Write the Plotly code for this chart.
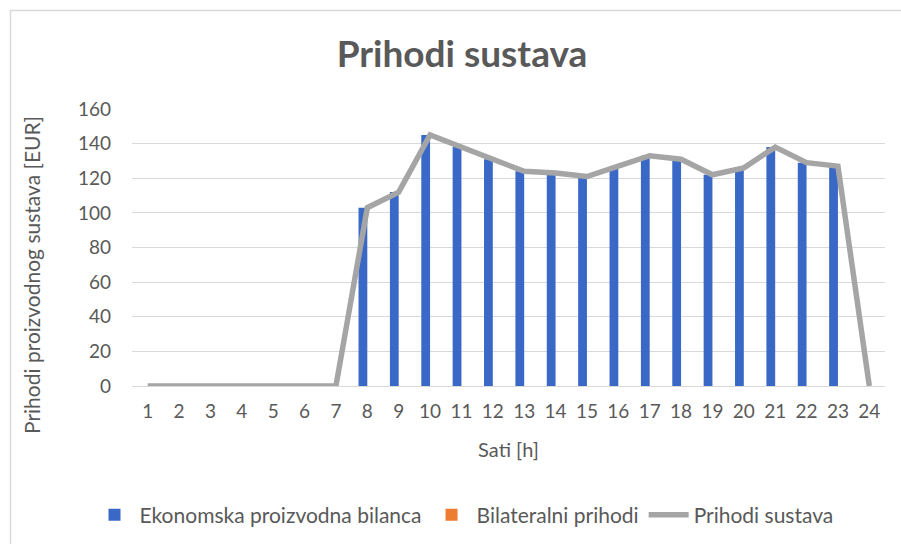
import plotly.graph_objects as go

hours = [str(h) for h in range(1, 25)]
ekonomska = [0, 0, 0, 0, 0, 0, 0, 103, 112, 145, 138, 131, 124, 123, 121, 127, 133, 131, 122, 126, 138, 129, 127, 0]
bilateralni = [0] * 24
prihodi = [a + b for a, b in zip(ekonomska, bilateralni)]

W, H = 901, 544
L, R, T, B = 132, 16, 109, 158
pw, ph = W - L - R, H - T - B

def px(x):
    return (x - L) / pw

def py(y):
    return (H - B - y) / ph

FONT = "Lato"
TXT = "#595959"

fig = go.Figure()
fig.add_trace(go.Bar(x=hours, y=ekonomska, name="Ekonomska proizvodna bilanca",
                     marker=dict(color="#3A68C6", line=dict(width=0))))
fig.add_trace(go.Bar(x=hours, y=bilateralni, name="Bilateralni prihodi",
                     marker=dict(color="#ED7D31", line=dict(width=0))))
fig.add_trace(go.Scatter(x=hours, y=prihodi, name="Prihodi sustava", mode="lines",
                         line=dict(color="#A5A5A5", width=5.5)))

fig.update_layout(
    width=W, height=H,
    margin=dict(l=L, r=R, t=T, b=B, autoexpand=False),
    paper_bgcolor="white", plot_bgcolor="white",
    barmode="group", bargap=0.44, bargroupgap=0,
    font=dict(family=FONT, color=TXT),
    title=dict(text="<b>Prihodi sustava</b>", x=px(462), xref="paper", xanchor="center",
               y=1 - 54 / H, yanchor="middle", font=dict(size=37, color=TXT, family=FONT)),
    xaxis=dict(title=dict(text="Sati [h]", font=dict(size=20, color=TXT), standoff=22),
               tickfont=dict(size=19, color=TXT), showgrid=False, ticklabelstandoff=8,
               showline=True, linecolor="#D9D9D9", linewidth=1, ticks=""),
    yaxis=dict(range=[0, 160], dtick=20, tickfont=dict(size=19, color=TXT),
               showgrid=True, gridcolor="#D9D9D9", gridwidth=1, zeroline=False,
               showline=False, ticks="", ticklabelstandoff=20),
    legend=dict(orientation="h", x=px(464), xanchor="center", y=py(515), yanchor="middle",
                font=dict(size=21, color=TXT), itemwidth=40, traceorder="normal"),
    annotations=[dict(text="Prihodi proizvodnog sustava [EUR]", textangle=-90,
                      xref="paper", yref="paper", x=px(31), y=py(275),
                      xanchor="center", yanchor="middle", showarrow=False,
                      font=dict(size=21, color=TXT, family=FONT))],
    shapes=[dict(type="path", xref="paper", yref="paper",
                 path=f"M {px(906)} {py(10.5)} L {px(10.5)} {py(10.5)} L {px(10.5)} {py(550)}",
                 line=dict(color="#D9D9D9", width=1.5))],
)

fig.write_html("out.html", config={"displayModeBar": False},
               post_script="document.body.style.margin='0';document.body.style.overflow='hidden';")
